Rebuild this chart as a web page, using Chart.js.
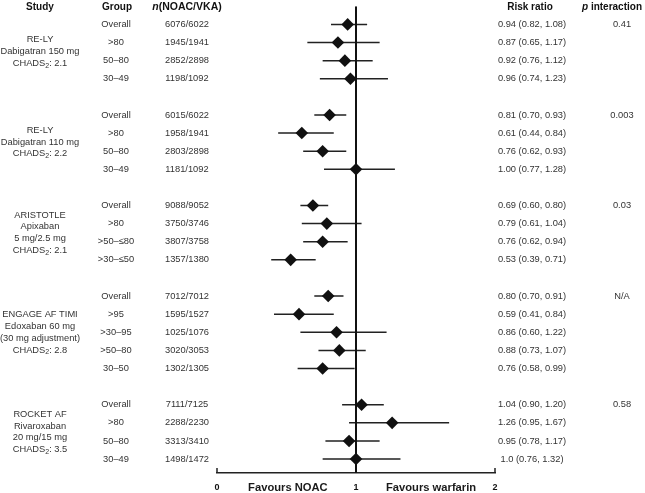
<!DOCTYPE html>
<html>
<head>
<meta charset="utf-8">
<script src="https://cdn.jsdelivr.net/npm/chart.js"></script>
<style>
  html, body { margin: 0; padding: 0; background: #fff; }
  canvas { display: block; }
</style>
</head>
<body>
<canvas id="forestChart" width="645" height="493"></canvas>
<script>
// Study description lines (the CHADS2 line is added with a subscript)
const studyLines = [
    ['RE-LY', 'Dabigatran 150 mg'],
    ['RE-LY', 'Dabigatran 110 mg'],
    ['ARISTOTLE', 'Apixaban', '5 mg/2.5 mg'],
    ['ENGAGE AF TIMI', 'Edoxaban 60 mg', '(30 mg adjustment)'],
    ['ROCKET AF', 'Rivaroxaban', '20 mg/15 mg']
];
const chads2 = ['2.1', '2.2', '2.1', '2.8', '3.5'];
const pInteraction = ['0.41', '0.003', '0.03', 'N/A', '0.58'];

const subgroups = [
    ['Overall', '>80', '50–80', '30–49'],
    ['Overall', '>80', '50–80', '30–49'],
    ['Overall', '>80', '>50–≤80', '>30–≤50'],
    ['Overall', '>95', '>30–95', '>50–80', '30–50'],
    ['Overall', '>80', '50–80', '30–49']
];
const nCounts = [
    ['6076/6022', '1945/1941', '2852/2898', '1198/1092'],
    ['6015/6022', '1958/1941', '2803/2898', '1181/1092'],
    ['9088/9052', '3750/3746', '3807/3758', '1357/1380'],
    ['7012/7012', '1595/1527', '1025/1076', '3020/3053', '1302/1305'],
    ['7111/7125', '2288/2230', '3313/3410', '1498/1472']
];
const estimate = [
    [0.94, 0.87, 0.92, 0.96],
    [0.81, 0.61, 0.76, 1.00],
    [0.69, 0.79, 0.76, 0.53],
    [0.80, 0.59, 0.86, 0.88, 0.76],
    [1.04, 1.26, 0.95, 1.0]
];
const ciLow = [
    [0.82, 0.65, 0.76, 0.74],
    [0.70, 0.44, 0.62, 0.77],
    [0.60, 0.61, 0.62, 0.39],
    [0.70, 0.41, 0.60, 0.73, 0.58],
    [0.90, 0.95, 0.78, 0.76]
];
const ciHigh = [
    [1.08, 1.17, 1.12, 1.23],
    [0.93, 0.84, 0.93, 1.28],
    [0.80, 1.04, 0.94, 0.71],
    [0.91, 0.84, 1.22, 1.07, 0.99],
    [1.20, 1.67, 1.17, 1.32]
];
const ratioText = [
    ['0.94 (0.82, 1.08)', '0.87 (0.65, 1.17)', '0.92 (0.76, 1.12)', '0.96 (0.74, 1.23)'],
    ['0.81 (0.70, 0.93)', '0.61 (0.44, 0.84)', '0.76 (0.62, 0.93)', '1.00 (0.77, 1.28)'],
    ['0.69 (0.60, 0.80)', '0.79 (0.61, 1.04)', '0.76 (0.62, 0.94)', '0.53 (0.39, 0.71)'],
    ['0.80 (0.70, 0.91)', '0.59 (0.41, 0.84)', '0.86 (0.60, 1.22)', '0.88 (0.73, 1.07)', '0.76 (0.58, 0.99)'],
    ['1.04 (0.90, 1.20)', '1.26 (0.95, 1.67)', '0.95 (0.78, 1.17)', '1.0 (0.76, 1.32)']
];
const xTicks = [0, 1, 2];
const axisLabels = ['Favours NOAC', 'Favours warfarin'];

// one row per subgroup, with an empty row between studies
const rowOf = [];
let nextRow = 0;
subgroups.forEach(g => {
    rowOf.push(g.map(() => nextRow++));
    nextRow++;
});
const yTop = -1, yBottom = 24.77;

const diamonds = [];
const whiskers = [];
subgroups.forEach((g, s) => g.forEach((_, i) => {
    const y = rowOf[s][i];
    diamonds.push({ x: estimate[s][i], y });
    whiskers.push({ x: ciLow[s][i], y }, { x: ciHigh[s][i], y }, { x: ciHigh[s][i], y: null });
}));

const FONT = '"Liberation Sans", Arial, sans-serif';
const TEXT = '#333';

function drawRich(ctx, parts, cx, cy) {
    let total = 0;
    parts.forEach(p => { ctx.font = p.font; p.w = ctx.measureText(p.t).width; total += p.w; });
    let x = cx - total / 2;
    ctx.textAlign = 'left';
    parts.forEach(p => {
        ctx.font = p.font;
        ctx.fillText(p.t, x, cy + (p.dy || 0));
        x += p.w;
    });
}

const textPlugin = {
    id: 'forestText',
    afterDraw(chart) {
        const { ctx } = chart;
        const xs = chart.scales.x, ys = chart.scales.y;
        const reg = `9.3px ${FONT}`;
        const bold = `bold 10px ${FONT}`;
        ctx.save();
        ctx.textBaseline = 'middle';
        ctx.fillStyle = '#111';

        // column headers
        const hy = 7;
        ctx.font = bold;
        ctx.textAlign = 'center';
        ctx.fillText('Study', 40, hy);
        ctx.fillText('Group', 117, hy);
        ctx.fillText('Risk ratio', 530, hy);
        drawRich(ctx, [
            { t: 'n', font: `italic bold 10.5px ${FONT}` },
            { t: '(NOAC/VKA)', font: `bold 10.5px ${FONT}` }
        ], 187, hy);
        drawRich(ctx, [
            { t: 'p', font: `italic bold 10px ${FONT}` },
            { t: ' interaction', font: `bold 10px ${FONT}` }
        ], 612, hy);

        // rows
        ctx.fillStyle = TEXT;
        subgroups.forEach((g, s) => {
            g.forEach((name, i) => {
                const py = ys.getPixelForValue(rowOf[s][i]);
                ctx.font = reg;
                ctx.textAlign = 'center';
                ctx.fillText(name, 116, py);
                ctx.fillText(nCounts[s][i], 187, py);
                ctx.fillText(ratioText[s][i], 532, py);
            });
            // p interaction on the Overall row
            ctx.font = reg;
            ctx.textAlign = 'center';
            ctx.fillText(pInteraction[s], 622, ys.getPixelForValue(rowOf[s][0]));

            // study block, centred on its rows
            const rows = rowOf[s];
            const mid = (ys.getPixelForValue(rows[0]) + ys.getPixelForValue(rows[rows.length - 1])) / 2;
            const lines = studyLines[s].length + 1;
            const lh = 11.8;
            let ly = mid - (lines - 1) * lh / 2;
            studyLines[s].forEach(t => {
                ctx.font = reg;
                ctx.textAlign = 'center';
                ctx.fillText(t, 40, ly);
                ly += lh;
            });
            drawRich(ctx, [
                { t: 'CHADS', font: reg },
                { t: '2', font: `7px ${FONT}`, dy: 2.5 },
                { t: ': ' + chads2[s], font: reg }
            ], 40, ly);
        });

        // small upward ticks at the ends of the axis
        ctx.strokeStyle = '#222';
        ctx.lineWidth = 1.5;
        [xTicks[0], xTicks[xTicks.length - 1]].forEach(v => {
            const px = xs.getPixelForValue(v);
            ctx.beginPath();
            ctx.moveTo(px, xs.top);
            ctx.lineTo(px, xs.top - 5);
            ctx.stroke();
        });

        // axis captions
        ctx.fillStyle = '#1a1a1a';
        ctx.font = `bold 11.2px ${FONT}`;
        ctx.textAlign = 'center';
        ctx.fillText(axisLabels[0], xs.getPixelForValue(0.51), xs.top + 15);
        ctx.fillText(axisLabels[1], xs.getPixelForValue(1.54), xs.top + 15);
        ctx.restore();
    }
};

new Chart(document.getElementById('forestChart'), {
    type: 'scatter',
    data: {
        datasets: [
            {
                data: whiskers,
                showLine: true,
                spanGaps: false,
                borderColor: '#222',
                borderWidth: 1.5,
                pointRadius: 0,
                order: 2
            },
            {
                data: [{ x: 1, y: yTop }, { x: 1, y: yBottom }],
                showLine: true,
                borderColor: '#111',
                borderWidth: 2,
                pointRadius: 0,
                order: 1
            },
            {
                data: diamonds,
                pointStyle: 'rectRot',
                pointRadius: 6.3,
                backgroundColor: '#111',
                borderColor: '#111',
                borderWidth: 0,
                order: 0
            }
        ]
    },
    options: {
        responsive: false,
        animation: false,
        layout: { padding: { left: 217, right: 150, top: 5, bottom: 0 } },
        plugins: { legend: { display: false }, tooltip: { enabled: false } },
        scales: {
            x: {
                type: 'linear',
                min: 0,
                max: 2,
                afterBuildTicks: scale => { scale.ticks = xTicks.map(v => ({ value: v })); },
                afterFit: scale => { scale.height = 20; },
                grid: { display: false, drawTicks: false },
                border: { display: true, color: '#222', width: 1.5 },
                ticks: {
                    color: '#111',
                    padding: 9,
                    font: { family: FONT, size: 9, weight: 'bold' }
                }
            },
            y: {
                type: 'linear',
                reverse: true,
                min: yTop,
                max: yBottom,
                display: false
            }
        }
    },
    plugins: [textPlugin]
});
</script>
</body>
</html>
